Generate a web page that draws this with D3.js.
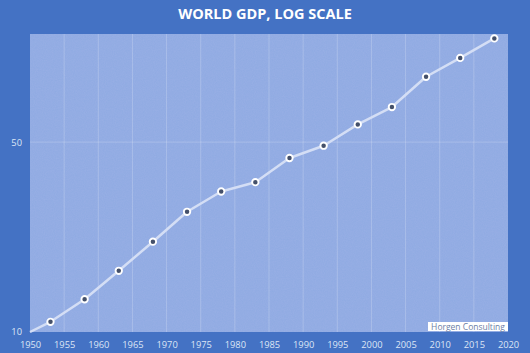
<!DOCTYPE html>
<html>
<head>
<meta charset="utf-8">
<script src="https://cdn.jsdelivr.net/npm/d3@7"></script>
<style>
  html, body { margin: 0; padding: 0; background: #4472c4; }
  svg { display: block; }
</style>
</head>
<body>
<div id="chart"></div>
<script>
// values
const years = [1950, 1953, 1958, 1963, 1968, 1973, 1978, 1983, 1988, 1993, 1998, 2003, 2008, 2013, 2018];
const gdp = [10, 10.9, 13.2, 16.8, 21.5, 27.7, 32.9, 35.6, 43.7, 48.5, 58.1, 67.3, 87.0, 102.1, 120.4];
const hasMarker = [false, true, true, true, true, true, true, true, true, true, true, true, true, true, true];
const xTicks = [1950, 1955, 1960, 1965, 1970, 1975, 1980, 1985, 1990, 1995, 2000, 2005, 2010, 2015, 2020];
const yTicks = [10, 50];

const W = 530, H = 353;
const margin = { top: 34, right: 22, bottom: 21, left: 30 };
const width = W - margin.left - margin.right;
const height = H - margin.top - margin.bottom;

const svg = d3.select("#chart").append("svg")
  .attr("width", W)
  .attr("height", H);

svg.append("rect").attr("width", W).attr("height", H).attr("fill", "#4472c4");

// paper-like texture for the plot area
const defs = svg.append("defs");
const f = defs.append("filter").attr("id", "grain").attr("x", 0).attr("y", 0).attr("width", 1).attr("height", 1);
f.append("feTurbulence").attr("type", "fractalNoise").attr("baseFrequency", 0.9).attr("numOctaves", 2).attr("seed", 3).attr("result", "noise");
f.append("feColorMatrix").attr("in", "noise").attr("type", "matrix")
  .attr("values", "0 0 0 0 0.70  0 0 0 0 0.62  0 0 0 0 0.92  0 0 0 0.14 0")
  .attr("result", "tint");
f.append("feComposite").attr("in", "tint").attr("in2", "SourceGraphic").attr("operator", "in");

// title
svg.append("text")
  .attr("x", W / 2)
  .attr("y", 19)
  .attr("text-anchor", "middle")
  .attr("fill", "#ffffff")
  .style("font-family", "'Open Sans', sans-serif")
  .style("font-weight", "bold")
  .style("font-size", "14.5px")
  .text("WORLD GDP, LOG SCALE");

const g = svg.append("g").attr("transform", `translate(${margin.left},${margin.top})`);

const x = d3.scaleLinear().domain([1950, 2020]).range([0, width]);
const y = d3.scaleLog().domain([10, 125]).range([height, 0]);

// plot area
g.append("rect")
  .attr("width", width)
  .attr("height", height)
  .attr("fill", "#8eaae2");
g.append("rect")
  .attr("width", width)
  .attr("height", height)
  .attr("fill", "#8eaae2")
  .attr("filter", "url(#grain)");

// vertical gridlines
g.append("g")
  .selectAll("line")
  .data(xTicks.slice(1, -1))
  .join("line")
    .attr("x1", d => x(d)).attr("x2", d => x(d))
    .attr("y1", 0).attr("y2", height)
    .attr("stroke", "#ffffff")
    .attr("stroke-opacity", 0.25)
    .attr("stroke-width", 0.8);

// horizontal gridline
g.append("g")
  .selectAll("line")
  .data(yTicks.slice(1))
  .join("line")
    .attr("x1", 0).attr("x2", width)
    .attr("y1", d => y(d)).attr("y2", d => y(d))
    .attr("stroke", "#ffffff")
    .attr("stroke-opacity", 0.25)
    .attr("stroke-width", 0.8);

// axes
const xAxis = g.append("g")
  .attr("transform", `translate(0,${height})`)
  .call(d3.axisBottom(x).tickValues(xTicks).tickFormat(d3.format("d")).tickSize(0).tickPadding(9));
const yAxis = g.append("g")
  .call(d3.axisLeft(y).tickValues(yTicks).tickFormat(d3.format("d")).tickSize(0).tickPadding(8));
[xAxis, yAxis].forEach(a => {
  a.select(".domain").remove();
  a.selectAll("text")
    .attr("fill", "#dde5f5")
    .style("font-family", "'Open Sans', sans-serif")
    .style("font-size", "9.3px");
});

// line
const pts = years.map((yr, i) => ({ yr, v: gdp[i], m: hasMarker[i] }));
const line = d3.line().x(d => x(d.yr)).y(d => y(d.v));

g.append("path")
  .datum(pts)
  .attr("fill", "none")
  .attr("stroke", "#d4def5")
  .attr("stroke-width", 2.5)
  .attr("stroke-linejoin", "round")
  .attr("d", line);

g.append("g")
  .selectAll("circle")
  .data(pts.filter(d => d.m))
  .join("circle")
    .attr("cx", d => x(d.yr))
    .attr("cy", d => y(d.v))
    .attr("r", 3.2)
    .attr("fill", "#44506a")
    .attr("stroke", "#ffffff")
    .attr("stroke-width", 1.9);

// watermark
const wm = svg.append("g").attr("transform", "translate(428,322)");
wm.append("rect").attr("width", 80).attr("height", 9).attr("fill", "#ffffff");
wm.append("text")
  .attr("x", 40).attr("y", 7.5)
  .attr("text-anchor", "middle")
  .attr("fill", "#6e7fa6")
  .style("font-family", "'Open Sans', sans-serif")
  .style("font-size", "8.5px")
  .text("Horgen Consulting");
</script>
</body>
</html>
